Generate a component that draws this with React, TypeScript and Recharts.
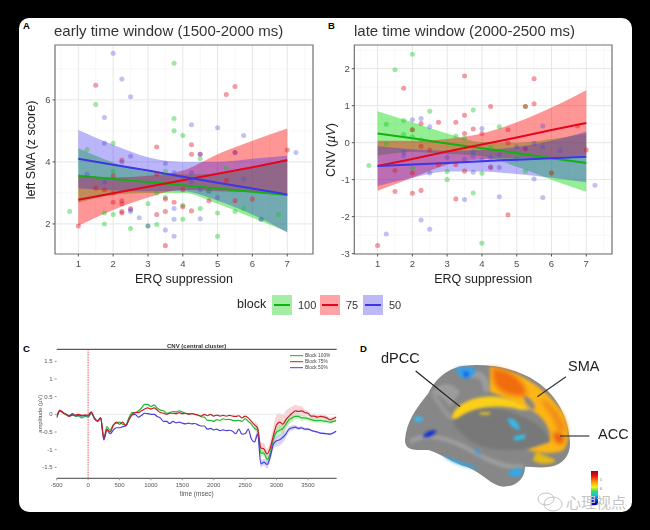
import {
  Area, CartesianGrid, ComposedChart, Label, Line, ReferenceArea, ReferenceLine,
  Scatter, XAxis, YAxis, ZAxis,
} from "recharts";

const FONT = "'Liberation Sans', Arial, sans-serif";
const GREEN = "#12b012";
const RED = "#e4061c";
const BLUE = "#3c36e6";
const GREEN_FILL = "#00d800";
const RED_FILL = "#ff0505";
const BLUE_FILL = "#2a18f0";

const erqGrid = [1, 2, 3, 4, 5, 6, 7];
const erqTicks = [1, 2, 3, 4, 5, 6, 7];
const erqMinor = [0.5, 1.5, 2.5, 3.5, 4.5, 5.5, 6.5, 7.5];

// panel A
const earlyTicks = [2, 4, 6];
const earlyMinor = [3, 5, 7];
const earlyGreenLine = [3.55, 3.45, 3.35, 3.25, 3.14, 3.04, 2.93];
const earlyRedLine = [2.78, 2.99, 3.2, 3.41, 3.62, 3.83, 4.05];
const earlyBlueLine = [4.1, 3.91, 3.72, 3.52, 3.33, 3.14, 2.95];
const earlyGreenHigh = [4.44, 3.98, 3.68, 3.6, 3.62, 3.82, 4.1];
const earlyGreenLow = [2.68, 2.93, 3.0, 3.0, 2.65, 2.2, 1.75];
const earlyRedHigh = [3.55, 3.5, 3.55, 3.72, 4.25, 4.68, 5.08];
const earlyRedLow = [1.94, 2.45, 2.85, 3.1, 3.05, 3.02, 3.0];
const earlyBlueHigh = [5.03, 4.55, 4.15, 4.0, 4.0, 4.1, 4.2];
const earlyBlueLow = [3.15, 3.08, 3.05, 3.05, 2.75, 2.3, 1.72];
const earlyGreenPts = [[0.75,2.4],[1.5,5.85],[1.25,4.4],[2,4.6],[2,3.7],[2,2.3],[1.75,2.0],[1.75,2.35],[2.5,1.85],[3,1.93],[3,2.65],[3.25,1.98],[3.25,3.0],[3.75,7.18],[3.75,5.4],[3.75,5.0],[4,4.85],[4,2.15],[4,2.6],[4.5,4.1],[4.5,2.5],[5,2.35],[5,1.6],[5.5,2.4],[5.75,2.5],[6.75,2.3],[3.5,2.85],[3.5,3.7],[5.25,3.8],[4.75,3.05],[6.25,2.15]];
const earlyRedPts = [[1,1.93],[1.5,6.47],[1.5,3.15],[1.75,3.1],[2,3.55],[2,3.0],[2,2.7],[2.25,4.05],[2.25,2.75],[2.25,2.65],[2.25,2.4],[2.25,2.35],[2.5,2.5],[3.25,4.48],[3.25,2.3],[3.5,2.8],[3.5,2.4],[3.5,1.3],[3.75,2.7],[4,2.55],[4,3.1],[4.25,4.55],[4.25,4.25],[4.25,2.42],[4.5,4.25],[4.75,2.75],[5.25,6.17],[5.25,3.4],[5.5,6.43],[5.5,4.3],[5.5,2.75],[6,2.8],[7,4.38],[3.25,3.6]];
const earlyBluePts = [[2,7.5],[2.25,6.67],[2.5,6.1],[1.75,5.43],[1.75,4.6],[4.25,5.2],[5,5.1],[5.75,4.85],[7.25,4.3],[2.5,4.18],[2.25,4.0],[3.5,3.95],[1.25,3.6],[1.75,3.35],[2.5,2.4],[2.5,2.45],[2.75,2.2],[3,1.93],[3.5,1.8],[3.75,1.6],[3.75,2.15],[3.75,2.5],[4.5,2.17],[4.5,4.25],[4.25,3.65],[4.25,3.35],[4.5,3.1],[4.75,3.05],[5,2.85],[5.75,3.45],[3.75,3.65],[5.5,4.3],[6.25,2.15]];

// panel B
const lateTicks = [-3, -2, -1, 0, 1, 2];
const lateMinor = [-2.5, -1.5, -0.5, 0.5, 1.5, 2.5];
const lateGreenLine = [0.25, 0.12, -0.02, -0.15, -0.28, -0.42, -0.55];
const lateRedLine = [-0.63, -0.44, -0.24, -0.05, 0.14, 0.34, 0.53];
const lateBlueLine = [-0.63, -0.59, -0.55, -0.5, -0.46, -0.42, -0.38];
const lateGreenHigh = [0.85, 0.55, 0.25, 0.02, 0.0, 0.1, 0.25];
const lateGreenLow = [-0.35, -0.25, -0.3, -0.37, -0.65, -1.0, -1.33];
const lateRedHigh = [0.05, 0.05, 0.1, 0.25, 0.55, 0.95, 1.42];
const lateRedLow = [-1.3, -0.95, -0.6, -0.45, -0.42, -0.4, -0.35];
const lateBlueHigh = [-0.1, -0.18, -0.22, -0.2, -0.12, 0.05, 0.3];
const lateBlueLow = [-1.17, -0.95, -0.78, -0.78, -0.85, -0.95, -1.07];
const lateGreenPts = [[0.75,-0.62],[1.5,1.97],[2,2.39],[1.25,0.5],[1.25,-0.03],[1.75,0.6],[1.75,0.22],[2,0.35],[2,0.15],[2.25,0.08],[2.5,0.85],[3.25,0.18],[3.75,0.88],[3,-1.0],[3,-0.78],[3.75,-1.36],[4,-0.83],[4,-2.72],[4.5,0.43],[3.5,0.12],[5.25,0.98],[5.25,-0.77],[6,-0.82],[4.25,-0.13],[5,-0.35],[2,-0.7]];
const lateRedPts = [[1,-2.78],[1.5,-0.75],[1.5,-1.32],[1.75,1.47],[2,-0.82],[2,-1.37],[2,0.35],[2.25,-1.29],[2.25,0.52],[2.25,-0.1],[2.5,-0.2],[2.75,0.55],[3.25,0.55],[3.25,-0.6],[3.25,-1.52],[3.5,1.8],[3.5,0.74],[3.5,0.25],[3.5,-0.77],[3.75,0.37],[4,0.25],[4.25,0.98],[4.25,-0.68],[4.75,-1.95],[4.75,0.0],[4.75,0.35],[5.25,0.98],[5.25,-0.17],[5.5,1.05],[5.5,1.73],[6,-0.82],[7,-0.2],[6.75,0.45],[2.75,-0.6]];
const lateBluePts = [[1.25,-2.47],[2,0.62],[2.25,0.65],[2.5,0.43],[1.75,-0.25],[1.75,-0.35],[2.25,-2.09],[2.5,-2.34],[2.5,-0.82],[3,-0.4],[3.5,-1.54],[3.5,-0.45],[3.75,-0.8],[3.75,-0.25],[3.75,-0.37],[4,0.38],[4,-0.47],[4.25,-0.65],[4.5,-0.67],[4.5,-1.46],[4.5,-0.32],[5,-0.12],[5,-0.45],[5.25,-0.15],[5.5,-0.98],[5.5,-0.02],[5.75,-1.48],[5.75,0.45],[5.75,-0.12],[6.25,-0.22],[7.25,-1.15],[4.25,-0.4]];

// panel C, one sample every 50 ms from -500
const cnvTimes = [-500,-450,-400,-350,-300,-250,-200,-150,-100,-50,0,50,100,150,200,250,300,350,400,450,500,550,600,650,700,750,800,850,900,950,1000,1050,1100,1150,1200,1250,1300,1350,1400,1450,1500,1550,1600,1650,1700,1750,1800,1850,1900,1950,2000,2050,2100,2150,2200,2250,2300,2350,2400,2450,2500,2550,2600,2650,2700,2750,2800,2850,2900,2950,3000,3050,3100,3150,3200,3250,3300,3350,3400,3450,3500,3550,3600,3650,3700,3750,3800,3850,3900,3950];
const cnvGreen = [-0.05,0.1,0.05,-0.02,-0.03,0,-0.05,-0.05,-0.1,-0.06,-0.08,0.02,-0.1,-0.2,-0.1,-0.65,-0.35,-0.45,-0.3,-0.25,-0.22,-0.28,-0.3,-0.1,0.05,0.05,0.1,0.18,0.28,0.28,0.22,0.27,0.18,0.12,0.1,0.03,0.05,0.08,0.07,0.1,0.07,0.03,0.02,0.02,0,-0.02,-0.07,-0.08,-0.17,-0.17,-0.2,-0.15,-0.17,-0.13,-0.15,-0.14,-0.17,-0.18,-0.17,-0.2,-0.12,-0.2,-0.28,-0.4,-0.45,-1.1,-1.1,-1.28,-1.1,-0.7,-0.5,-0.45,-0.4,-0.28,-0.15,-0.1,-0.06,-0.06,-0.1,-0.1,-0.12,-0.15,-0.17,-0.18,-0.17,-0.19,-0.2,-0.22,-0.2,-0.17];
const cnvRed = [-0.08,0.12,0.04,0,-0.06,-0.02,-0.02,0,-0.03,-0.02,-0.02,0.07,-0.12,-0.18,-0.1,-0.68,-0.42,-0.5,-0.32,-0.22,-0.28,-0.22,-0.32,-0.15,0,0.05,0.05,0.1,0.15,0.18,0.15,0.18,0.12,0.05,0.03,0,0.03,0.03,0.02,0.05,0.02,0.03,0,0.02,0,-0.02,-0.05,0,-0.04,0,-0.05,-0.02,-0.05,-0.03,-0.05,-0.03,-0.05,-0.06,-0.04,-0.1,-0.05,-0.1,-0.2,-0.3,-0.4,-0.95,-0.98,-1.12,-0.95,-0.6,-0.3,-0.22,-0.28,-0.15,-0.05,0.03,0.1,0.08,0.1,0.05,0.03,-0.05,-0.05,-0.08,-0.06,-0.07,-0.1,-0.15,-0.12,-0.08];
const cnvBlue = [-0.1,0.1,0.05,0,-0.05,0.02,-0.05,-0.02,-0.05,-0.03,-0.05,0.05,-0.1,-0.2,-0.1,-0.72,-0.45,-0.55,-0.45,-0.38,-0.38,-0.35,-0.33,-0.15,-0.02,0,-0.08,-0.03,0.03,0.02,0,0,-0.06,-0.1,-0.2,-0.2,-0.26,-0.2,-0.24,-0.22,-0.25,-0.27,-0.25,-0.27,-0.26,-0.3,-0.33,-0.33,-0.42,-0.4,-0.44,-0.42,-0.46,-0.44,-0.46,-0.45,-0.48,-0.55,-0.42,-0.56,-0.55,-0.42,-0.7,-0.78,-0.55,-1.4,-1.35,-1.42,-1.2,-0.85,-0.75,-0.72,-0.65,-0.55,-0.42,-0.38,-0.36,-0.4,-0.38,-0.42,-0.42,-0.45,-0.48,-0.5,-0.53,-0.54,-0.55,-0.56,-0.53,-0.48];
const cnvTicksX = [-500, 0, 500, 1000, 1500, 2000, 2500, 3000, 3500];
const cnvTicksY = [-1.5, -1, -0.5, 0, 0.5, 1, 1.5];
// shaded error around the lines, only visible late in the trial
const bandTimes = [2650,2700,2750,2800,2850,2900,2950,3000,3050,3100,3150,3200,3250,3300,3350,3400,3450,3500,3550,3600,3650,3700,3750,3800,3850,3900,3950];
const bandRedHigh = [-0.2,-0.28,-0.8,-0.82,-0.98,-0.75,-0.35,-0.02,0.03,0.0,0.1,0.18,0.22,0.27,0.24,0.23,0.14,0.1,0.02,0.02,-0.01,0.0,-0.01,-0.04,-0.09,-0.07,-0.03];
const bandRedLow = [-0.4,-0.52,-1.1,-1.14,-1.26,-1.15,-0.85,-0.58,-0.47,-0.56,-0.4,-0.28,-0.16,-0.07,-0.08,-0.03,-0.04,-0.04,-0.12,-0.12,-0.15,-0.12,-0.13,-0.16,-0.21,-0.17,-0.13];
const bandGreenHigh = [-0.33,-0.35,-1.0,-1.0,-1.16,-0.98,-0.55,-0.36,-0.3,-0.25,-0.15,-0.05,0,0.03,0.02,-0.02,-0.03,-0.06,-0.09,-0.11,-0.12,-0.11,-0.13,-0.15,-0.17,-0.15,-0.12];
const bandGreenLow = [-0.47,-0.55,-1.2,-1.2,-1.4,-1.22,-0.85,-0.68,-0.62,-0.56,-0.42,-0.27,-0.21,-0.15,-0.14,-0.18,-0.17,-0.18,-0.21,-0.23,-0.24,-0.23,-0.25,-0.25,-0.27,-0.25,-0.22];
const bandBlueHigh = [-0.7,-0.45,-1.3,-1.25,-1.3,-1.08,-0.72,-0.62,-0.58,-0.52,-0.45,-0.34,-0.3,-0.3,-0.35,-0.34,-0.38,-0.38,-0.42,-0.45,-0.47,-0.5,-0.51,-0.52,-0.53,-0.5,-0.45];
const bandBlueLow = [-0.86,-0.65,-1.5,-1.45,-1.54,-1.32,-0.98,-0.9,-0.88,-0.8,-0.66,-0.5,-0.46,-0.42,-0.45,-0.42,-0.46,-0.46,-0.48,-0.51,-0.53,-0.56,-0.57,-0.58,-0.59,-0.56,-0.51];

const legendKeys = ["100", "75", "50"];
const legendLabelsC = ["Block 100%", "Block 75%", "Block 50%"];
const cTitle = "CNV (central cluster)";

const zip = (pts: number[][]) => pts.map(([x, y]) => ({ x, y }));

type ErqProps = {
  left: number; width: number; marginLeft: number; marginRight: number;
  ticks: number[]; minor: number[]; domain: [number, number];
  yLabel: any; labelX: number;
  lines: number[][]; highs: number[][]; lows: number[][]; pts: number[][][];
};

const ErqPanel = ({ left, width, marginLeft, marginRight, ticks, minor, domain, yLabel, labelX, lines, highs, lows, pts }: ErqProps) => {
  const table = erqGrid.map((x, i) => ({
    x,
    g: lines[0][i], r: lines[1][i], b: lines[2][i],
    gBand: [lows[0][i], highs[0][i]],
    rBand: [lows[1][i], highs[1][i]],
    bBand: [lows[2][i], highs[2][i]],
  }));
  const xDomain: [number, number] = [0.33, 7.74];
  return (
    <div style={{ position: "absolute", left, top: 20, filter: "blur(0.6px)" }}>
      <ComposedChart width={width} height={280} data={table} margin={{ top: 25, right: marginRight, bottom: 16, left: marginLeft }}>
        <CartesianGrid stroke="#f3f3f3" strokeWidth={0.7} verticalValues={erqMinor} horizontalValues={minor} />
        <CartesianGrid stroke="#e6e6e6" strokeWidth={1} verticalValues={erqTicks} horizontalValues={ticks} />
        <XAxis dataKey="x" type="number" domain={xDomain} ticks={erqTicks} allowDataOverflow axisLine={false} height={30} tickMargin={4}
          tick={{ fill: "#4d4d4d", fontSize: 9.5, fontFamily: FONT }} tickSize={2.5} tickLine={{ stroke: "#555" }} stroke="#555">
          <Label value="ERQ suppression" position="insideBottom" offset={1} style={{ fill: "#222", fontSize: 12.5, fontFamily: FONT }} />
        </XAxis>
        <YAxis type="number" domain={domain} ticks={ticks} allowDataOverflow axisLine={false} width={30}
          tick={{ fill: "#4d4d4d", fontSize: 9.5, fontFamily: FONT }} tickSize={2.5} tickLine={{ stroke: "#555" }}>
          <Label content={() => (
            <text transform={`translate(${labelX},130) rotate(-90)`} textAnchor="middle" fill="#222" fontSize={12.5} fontFamily={FONT}>{yLabel}</text>
          )} />
        </YAxis>
        <ZAxis range={[20, 20]} />
        <Scatter data={zip(pts[0])} dataKey="y" fill="#10c820" fillOpacity={0.4} isAnimationActive={false} />
        <Scatter data={zip(pts[1])} dataKey="y" fill="#e01424" fillOpacity={0.42} isAnimationActive={false} />
        <Scatter data={zip(pts[2])} dataKey="y" fill="#4a40d8" fillOpacity={0.33} isAnimationActive={false} />
        <Area dataKey="gBand" type="monotone" fill={GREEN_FILL} fillOpacity={0.42} stroke="none" isAnimationActive={false} activeDot={false} />
        <Line dataKey="g" type="linear" stroke={GREEN} strokeWidth={2} dot={false} isAnimationActive={false} activeDot={false} />
        <Area dataKey="rBand" type="monotone" fill={RED_FILL} fillOpacity={0.42} stroke="none" isAnimationActive={false} activeDot={false} />
        <Line dataKey="r" type="linear" stroke={RED} strokeWidth={2} dot={false} isAnimationActive={false} activeDot={false} />
        <Area dataKey="bBand" type="monotone" fill={BLUE_FILL} fillOpacity={0.32} stroke="none" isAnimationActive={false} activeDot={false} />
        <Line dataKey="b" type="linear" stroke={BLUE} strokeWidth={2} dot={false} isAnimationActive={false} activeDot={false} />
        <ReferenceArea x1={xDomain[0]} x2={xDomain[1]} y1={domain[0]} y2={domain[1]} fill="none" stroke="#707070" strokeWidth={1.2} fillOpacity={0} />
      </ComposedChart>
    </div>
  );
};

const CnvPanel = () => {
  const table = cnvTimes.map((t, i) => {
    const k = bandTimes.indexOf(t);
    return {
      t, g: cnvGreen[i], r: cnvRed[i], b: cnvBlue[i],
      gBand: k >= 0 ? [bandGreenLow[k], bandGreenHigh[k]] : undefined,
      rBand: k >= 0 ? [bandRedLow[k], bandRedHigh[k]] : undefined,
      bBand: k >= 0 ? [bandBlueLow[k], bandBlueHigh[k]] : undefined,
    };
  });
  const tick = { fill: "#555", fontSize: 6, fontFamily: FONT };
  return (
    <div style={{ position: "absolute", left: 20, top: 335, filter: "blur(0.6px)" }}>
      <ComposedChart width={330} height={170} data={table} margin={{ top: 14.3, right: 13.3, bottom: 6.7, left: 16.7 }}>
        <XAxis dataKey="t" type="number" domain={[-500, 3958]} ticks={cnvTicksX} allowDataOverflow height={20} tick={tick} tickSize={2} stroke="#444"
          tickLine={{ stroke: "#999" }}>
          <Label value="time (msec)" position="insideBottom" offset={2} style={{ fill: "#555", fontSize: 6.5, fontFamily: FONT }} />
        </XAxis>
        <YAxis type="number" domain={[-1.81, 1.84]} ticks={cnvTicksY} allowDataOverflow width={20} axisLine={false} tick={tick} tickSize={2} tickLine={{ stroke: "#999" }}>
          <Label value="amplitude (µV)" angle={-90} position="insideLeft" offset={3} style={{ fill: "#555", fontSize: 5.8, fontFamily: FONT, textAnchor: "middle" }} />
        </YAxis>
        <ReferenceLine y={0} stroke="#e3e3e3" strokeWidth={0.8} />
        <ReferenceLine y={1.84} stroke="#333" strokeWidth={1} />
        <ReferenceLine x={0} stroke="#d9484f" strokeWidth={0.9} strokeDasharray="1.5 1" />
        <Area dataKey="rBand" type="monotone" fill="#f4a0a0" fillOpacity={0.45} stroke="none" isAnimationActive={false} activeDot={false} />
        <Area dataKey="gBand" type="monotone" fill="#8fe88f" fillOpacity={0.45} stroke="none" isAnimationActive={false} activeDot={false} />
        <Area dataKey="bBand" type="monotone" fill="#a9a4f2" fillOpacity={0.45} stroke="none" isAnimationActive={false} activeDot={false} />
        <Line dataKey="g" type="monotone" stroke="#22bb33" strokeWidth={1.2} dot={false} isAnimationActive={false} activeDot={false} />
        <Line dataKey="b" type="monotone" stroke="#4a3fd6" strokeWidth={1.2} dot={false} isAnimationActive={false} activeDot={false} />
        <Line dataKey="r" type="monotone" stroke="#c4202c" strokeWidth={1.2} dot={false} isAnimationActive={false} activeDot={false} />
      </ComposedChart>
    </div>
  );
};

// illustration of the cortical surface, not a data mark
const Brain = () => (
  <svg width={650} height={530} style={{ position: "absolute", left: 0, top: 0 }}>
    <defs>
      <filter id="soft" x="-30%" y="-30%" width="160%" height="160%"><feGaussianBlur stdDeviation="8" /></filter>
      <filter id="soft2" x="-30%" y="-30%" width="160%" height="160%"><feGaussianBlur stdDeviation="4" /></filter>
      <linearGradient id="bar" x1="0" y1="0" x2="0" y2="1">
        <stop offset="0" stopColor="#a00010" />
        <stop offset="0.15" stopColor="#f01010" />
        <stop offset="0.32" stopColor="#ffa000" />
        <stop offset="0.48" stopColor="#f0f020" />
        <stop offset="0.6" stopColor="#30e060" />
        <stop offset="0.72" stopColor="#10c0f0" />
        <stop offset="0.88" stopColor="#1020e0" />
        <stop offset="1" stopColor="#000090" />
      </linearGradient>
    </defs>
    <g transform="translate(350,335) scale(0.3333)">
      <path d="M165,315 C170,260 195,225 235,175 C255,130 300,95 345,92 C420,85 500,100 560,140 C620,180 655,245 660,320 C662,360 640,390 600,395 C570,400 545,395 525,395 C525,430 500,455 460,455 C420,450 400,415 350,395 C310,385 270,355 235,345 C200,345 165,350 165,315Z" fill="#878787" />
      <g filter="url(#soft2)">
        <path d="M310,255 C350,210 440,210 500,238 C560,262 590,285 600,322 C570,330 540,345 480,345 C430,345 380,340 340,300 C320,285 310,270 310,255Z" fill="#787878" />
        <path d="M240,175 C265,150 290,130 330,170 L300,215 C285,190 260,175 240,175Z" fill="#9c9c9c" />
        <path d="M180,320 C230,290 300,310 370,350 C440,390 480,400 520,395" fill="none" stroke="#9e9e9e" strokeWidth="14" />
        <path d="M250,180 L300,250" fill="none" stroke="#999" strokeWidth="12" />
        <path d="M360,120 C390,110 410,130 410,170" fill="none" stroke="#9c9c9c" strokeWidth="20" />
      </g>
      <g filter="url(#soft2)">
        <path d="M420,95 C500,105 580,150 640,235 C660,285 660,320 640,345 C600,362 560,350 530,345 L600,322 C605,270 570,235 530,220 C500,200 450,180 420,170Z" fill="#fdb515" />
        <path d="M305,252 C310,205 380,180 440,185 C480,190 520,210 535,225 L510,224 C450,207 370,212 322,250Z" fill="#fcd012" />
        <path d="M560,350 C600,370 620,370 615,380 C590,392 560,385 548,375Z" fill="#e6b818" />
        <path d="M388,232 L420,230 L418,240 L392,240Z" fill="#d8bc30" />
        <path d="M520,180 C540,185 560,205 555,225 C540,225 520,205 520,180Z" fill="#8a8a70" />
      </g>
      <g filter="url(#soft)">
        <path d="M425,100 C470,102 525,130 530,180 C490,190 440,170 432,140Z" fill="#f06c10" />
        <path d="M580,190 C620,220 645,260 650,290 L625,290 C612,250 590,220 575,205Z" fill="#f08c14" />
        <path d="M610,290 C640,295 648,310 638,325 C622,330 608,315 610,290Z" fill="#e8560f" />
      </g>
      <g filter="url(#soft2)">
        <path d="M312,102 C340,92 370,95 380,105 C372,122 355,135 342,132 C328,125 322,110 312,102Z" fill="#34a0e8" />
        <path d="M338,108 L360,112 L352,128 L342,126Z" fill="#1e62e0" />
        <path d="M190,250 C200,240 216,242 220,252 C214,265 196,265 190,250Z" fill="#38b8ec" />
        <path d="M218,305 C228,287 250,282 260,289 C250,303 232,312 218,305Z" fill="#1830d0" />
        <path d="M275,362 C320,372 368,395 392,400 C360,403 312,385 275,362Z" fill="#30a8e8" />
        <path d="M472,250 C490,246 508,265 510,283 C495,288 477,270 472,250Z" fill="#38b8ec" />
        <path d="M490,305 L525,297 L525,311 L495,317Z" fill="#30c0e8" />
        <path d="M472,415 C490,397 513,397 518,405 C513,428 490,432 472,415Z" fill="#30a8e8" />
        <path d="M372,337 C385,346 393,355 393,363 C380,357 374,348 372,337Z" fill="#2f9ae8" />
      </g>
      <path d="M197,108 L330,215" stroke="#1a1a1a" strokeWidth="3.5" fill="none" />
      <path d="M648,125 L562,185" stroke="#333" strokeWidth="3.5" fill="none" />
      <path d="M718,303 L630,303" stroke="#333" strokeWidth="3.5" fill="none" />
    </g>
    <rect x={591} y={471} width={7} height={34} fill="url(#bar)" />
    <g style={{ fontFamily: FONT }} fill="#222" filter="blur(0.3px)">
      <text x={381} y={363} fontSize={14.5}>dPCC</text>
      <text x={568} y={371} fontSize={14.5}>SMA</text>
      <text x={598} y={439} fontSize={14.5}>ACC</text>
      <text x={600} y={481} fontSize={3.5} fill="#666">1</text>
      <text x={600} y={490} fontSize={3.5} fill="#666">0</text>
    </g>
    <g fill="#000" fontWeight="bold" fontSize={9.5} style={{ fontFamily: FONT }}>
      <text x={23} y={29}>A</text>
      <text x={328} y={29}>B</text>
      <text x={23} y={352}>C</text>
      <text x={360} y={352}>D</text>
    </g>
    <g style={{ fontFamily: FONT, filter: "blur(0.4px)" }}>
      <text x={196.7} y={348} fontSize={6} fontWeight="bold" textAnchor="middle" fill="#333">{cTitle}</text>
      {[GREEN, "#c4202c", "#4a3fd6"].map((c, i) => (
        <g key={c}>
          <line x1={290} x2={303} y1={355.7 + i * 6} y2={355.7 + i * 6} stroke={c} strokeWidth={1} />
          <text x={305} y={357.4 + i * 6} fontSize={4.8} fill="#444">{legendLabelsC[i]}</text>
        </g>
      ))}
    </g>
    <g opacity={0.6} fill="none" stroke="#9a9a9a" strokeWidth={1}>
      <ellipse cx={546} cy={499} rx={8} ry={6} />
      <ellipse cx={553} cy={504} rx={9} ry={7} />
    </g>
    <text x={566} y={508} fontSize={15} fill="#c4c4c4" style={{ fontFamily: "'Noto Sans CJK SC'" }}>心理视点</text>
  </svg>
);

const BlockLegend = () => {
  const fills = ["#a4eda4", "#ffa3a6", "#bdb9f7"];
  const colors = [GREEN, RED, BLUE];
  const boxX = [272, 320, 363];
  const textX = [298, 346, 389];
  return (
    <div style={{ position: "absolute", left: 0, top: 0, filter: "blur(0.5px)", fontFamily: FONT }}>
      <div style={{ position: "absolute", left: 237, top: 297, fontSize: 12.5, color: "#222" }}>block</div>
      {legendKeys.map((k, i) => (
        <div key={k}>
          <div style={{ position: "absolute", left: boxX[i], top: 295, width: 20, height: 20, background: fills[i] }}>
            <div style={{ position: "absolute", left: 2, right: 2, top: 9, height: 2, background: colors[i] }} />
          </div>
          <div style={{ position: "absolute", left: textX[i], top: 299, fontSize: 11, color: "#333" }}>{k}</div>
        </div>
      ))}
    </div>
  );
};

const Title = ({ x, text }: { x: number; text: string }) => (
  <div style={{ position: "absolute", left: x, top: 22, fontFamily: FONT, fontSize: 15, color: "#333", whiteSpace: "nowrap", filter: "blur(0.5px)" }}>{text}</div>
);

export default function App() {
  return (
    <div style={{ position: "fixed", left: 0, top: 0, width: 650, height: 530, background: "#000", overflow: "hidden" }}>
      <div style={{ position: "absolute", left: 19, top: 18, width: 613, height: 494, background: "#fff", borderRadius: 10 }} />
      <Title x={54} text="early time window (1500-2000 ms)" />
      <Title x={354} text="late time window (2000-2500 ms)" />
      <ErqPanel left={10} width={310} marginLeft={15} marginRight={7} ticks={earlyTicks} minor={earlyMinor} domain={[1.03, 7.77]}
        yLabel="left SMA (z score)" labelX={25}
        lines={[earlyGreenLine, earlyRedLine, earlyBlueLine]} highs={[earlyGreenHigh, earlyRedHigh, earlyBlueHigh]} lows={[earlyGreenLow, earlyRedLow, earlyBlueLow]}
        pts={[earlyGreenPts, earlyRedPts, earlyBluePts]} />
      <ErqPanel left={320} width={300} marginLeft={4.3} marginRight={8} ticks={lateTicks} minor={lateMinor} domain={[-3.01, 2.64]}
        yLabel={<>CNV (<tspan fontStyle="italic">µV</tspan>)</>} labelX={15}
        lines={[lateGreenLine, lateRedLine, lateBlueLine]} highs={[lateGreenHigh, lateRedHigh, lateBlueHigh]} lows={[lateGreenLow, lateRedLow, lateBlueLow]}
        pts={[lateGreenPts, lateRedPts, lateBluePts]} />
      <BlockLegend />
      <CnvPanel />
      <Brain />
    </div>
  );
}
